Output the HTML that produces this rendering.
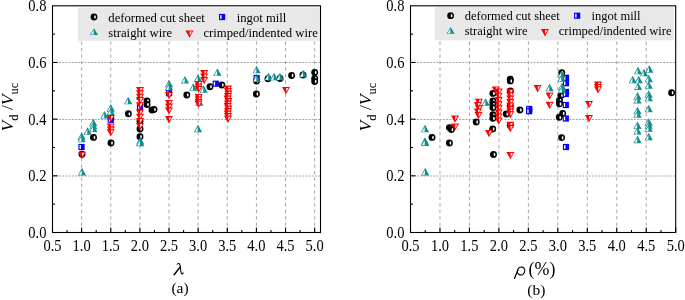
<!DOCTYPE html>
<html><head><meta charset="utf-8"><style>
html,body{margin:0;padding:0;background:#fff;width:685px;height:300px;overflow:hidden}
svg{display:block;will-change:transform}
text{font-family:"Liberation Serif",serif;fill:#000}
.tl{font-size:148px}
.lg{font-size:127px}
.lgb{font-size:125px}
.yt{font-size:175px}
.sub{font-size:125px}
.xt{font-size:170px}
.xt2{font-size:179px}
.cap{font-size:155px}
</style></head><body>
<svg width="685" height="300" viewBox="0 0 685 300">
<line x1="81.63" y1="232.5" x2="81.63" y2="9" stroke="#a6a6a6" stroke-width="1" stroke-dasharray="3.4,3.07"/>
<line x1="110.76" y1="232.5" x2="110.76" y2="9" stroke="#a6a6a6" stroke-width="1" stroke-dasharray="3.4,3.07"/>
<line x1="139.89" y1="232.5" x2="139.89" y2="9" stroke="#a6a6a6" stroke-width="1" stroke-dasharray="3.4,3.07"/>
<line x1="169.02" y1="232.5" x2="169.02" y2="9" stroke="#a6a6a6" stroke-width="1" stroke-dasharray="3.4,3.07"/>
<line x1="198.15" y1="232.5" x2="198.15" y2="9" stroke="#a6a6a6" stroke-width="1" stroke-dasharray="3.4,3.07"/>
<line x1="227.28" y1="232.5" x2="227.28" y2="9" stroke="#a6a6a6" stroke-width="1" stroke-dasharray="3.4,3.07"/>
<line x1="256.41" y1="232.5" x2="256.41" y2="9" stroke="#a6a6a6" stroke-width="1" stroke-dasharray="3.4,3.07"/>
<line x1="285.54" y1="232.5" x2="285.54" y2="9" stroke="#a6a6a6" stroke-width="1" stroke-dasharray="3.4,3.07"/>
<line x1="314.67" y1="232.5" x2="314.67" y2="9" stroke="#a6a6a6" stroke-width="1" stroke-dasharray="3.4,3.07"/>
<line x1="52.5" y1="176.00" x2="320.5" y2="176.00" stroke="#a6a6a6" stroke-width="1" stroke-dasharray="2,1.24"/>
<line x1="52.5" y1="119.50" x2="320.5" y2="119.50" stroke="#a6a6a6" stroke-width="1" stroke-dasharray="2,1.24"/>
<line x1="52.5" y1="62.50" x2="320.5" y2="62.50" stroke="#a6a6a6" stroke-width="1" stroke-dasharray="2,1.24"/>
<rect x="78.0" y="7.5" width="241.60" height="33.30" fill="#e8e8e8"/>
<circle cx="82.00" cy="154.30" r="3.45" fill="#000"/><ellipse cx="83.00" cy="154.40" rx="0.85" ry="1.75" fill="#fff"/>
<circle cx="93.50" cy="137.40" r="3.45" fill="#000"/><ellipse cx="94.50" cy="137.50" rx="0.85" ry="1.75" fill="#fff"/>
<circle cx="110.80" cy="118.00" r="3.45" fill="#000"/><ellipse cx="111.80" cy="118.10" rx="0.85" ry="1.75" fill="#fff"/>
<circle cx="111.00" cy="143.00" r="3.45" fill="#000"/><ellipse cx="112.00" cy="143.10" rx="0.85" ry="1.75" fill="#fff"/>
<circle cx="128.40" cy="113.80" r="3.45" fill="#000"/><ellipse cx="129.40" cy="113.90" rx="0.85" ry="1.75" fill="#fff"/>
<circle cx="140.00" cy="121.00" r="3.45" fill="#000"/><ellipse cx="141.00" cy="121.10" rx="0.85" ry="1.75" fill="#fff"/>
<circle cx="140.00" cy="129.00" r="3.45" fill="#000"/><ellipse cx="141.00" cy="129.10" rx="0.85" ry="1.75" fill="#fff"/>
<circle cx="140.00" cy="136.70" r="3.45" fill="#000"/><ellipse cx="141.00" cy="136.80" rx="0.85" ry="1.75" fill="#fff"/>
<circle cx="147.00" cy="101.00" r="3.45" fill="#000"/><ellipse cx="148.00" cy="101.10" rx="0.85" ry="1.75" fill="#fff"/>
<circle cx="147.00" cy="104.50" r="3.45" fill="#000"/><ellipse cx="148.00" cy="104.60" rx="0.85" ry="1.75" fill="#fff"/>
<circle cx="152.00" cy="110.00" r="3.45" fill="#000"/><ellipse cx="153.00" cy="110.10" rx="0.85" ry="1.75" fill="#fff"/>
<circle cx="154.00" cy="109.50" r="3.45" fill="#000"/><ellipse cx="155.00" cy="109.60" rx="0.85" ry="1.75" fill="#fff"/>
<circle cx="186.80" cy="95.00" r="3.45" fill="#000"/><ellipse cx="187.80" cy="95.10" rx="0.85" ry="1.75" fill="#fff"/>
<circle cx="210.00" cy="86.70" r="3.45" fill="#000"/><ellipse cx="211.00" cy="86.80" rx="0.85" ry="1.75" fill="#fff"/>
<circle cx="221.80" cy="85.00" r="3.45" fill="#000"/><ellipse cx="222.80" cy="85.10" rx="0.85" ry="1.75" fill="#fff"/>
<circle cx="256.60" cy="81.00" r="3.45" fill="#000"/><ellipse cx="257.60" cy="81.10" rx="0.85" ry="1.75" fill="#fff"/>
<circle cx="256.40" cy="94.00" r="3.45" fill="#000"/><ellipse cx="257.40" cy="94.10" rx="0.85" ry="1.75" fill="#fff"/>
<circle cx="268.00" cy="78.80" r="3.45" fill="#000"/><ellipse cx="269.00" cy="78.90" rx="0.85" ry="1.75" fill="#fff"/>
<circle cx="280.00" cy="78.50" r="3.45" fill="#000"/><ellipse cx="281.00" cy="78.60" rx="0.85" ry="1.75" fill="#fff"/>
<circle cx="291.60" cy="75.50" r="3.45" fill="#000"/><ellipse cx="292.60" cy="75.60" rx="0.85" ry="1.75" fill="#fff"/>
<circle cx="303.00" cy="75.00" r="3.45" fill="#000"/><ellipse cx="304.00" cy="75.10" rx="0.85" ry="1.75" fill="#fff"/>
<circle cx="314.70" cy="72.50" r="3.45" fill="#000"/><ellipse cx="315.70" cy="72.60" rx="0.85" ry="1.75" fill="#fff"/>
<circle cx="314.70" cy="78.50" r="3.45" fill="#000"/><ellipse cx="315.70" cy="78.60" rx="0.85" ry="1.75" fill="#fff"/>
<circle cx="314.70" cy="81.50" r="3.45" fill="#000"/><ellipse cx="315.70" cy="81.60" rx="0.85" ry="1.75" fill="#fff"/>
<rect x="78.40" y="143.90" width="6.2" height="6.2" fill="#00f"/><rect x="79.55" y="145.10" width="1.35" height="3.8" fill="#fff"/>
<rect x="107.70" y="116.70" width="6.2" height="6.2" fill="#00f"/><rect x="108.85" y="117.90" width="1.35" height="3.8" fill="#fff"/>
<rect x="136.90" y="103.90" width="6.2" height="6.2" fill="#00f"/><rect x="138.05" y="105.10" width="1.35" height="3.8" fill="#fff"/>
<rect x="165.90" y="90.10" width="6.2" height="6.2" fill="#00f"/><rect x="167.05" y="91.30" width="1.35" height="3.8" fill="#fff"/>
<rect x="212.60" y="80.60" width="6.2" height="6.2" fill="#00f"/><rect x="213.75" y="81.80" width="1.35" height="3.8" fill="#fff"/>
<rect x="253.50" y="74.90" width="6.2" height="6.2" fill="#00f"/><rect x="254.65" y="76.10" width="1.35" height="3.8" fill="#fff"/>
<path d="M77.50,139.80L85.70,139.80L81.60,132.20Z" fill="#108d8c"/><path d="M81.30,134.40L81.30,139.15L78.55,139.15Z" fill="#fff"/>
<path d="M77.50,142.30L85.70,142.30L81.60,134.70Z" fill="#108d8c"/><path d="M81.30,136.90L81.30,141.65L78.55,141.65Z" fill="#fff"/>
<path d="M77.90,175.40L86.10,175.40L82.00,167.80Z" fill="#108d8c"/><path d="M81.70,170.00L81.70,174.75L78.95,174.75Z" fill="#fff"/>
<path d="M83.50,134.80L91.70,134.80L87.60,127.20Z" fill="#108d8c"/><path d="M87.30,129.40L87.30,134.15L84.55,134.15Z" fill="#fff"/>
<path d="M89.20,126.30L97.40,126.30L93.30,118.70Z" fill="#108d8c"/><path d="M93.00,120.90L93.00,125.65L90.25,125.65Z" fill="#fff"/>
<path d="M89.20,129.30L97.40,129.30L93.30,121.70Z" fill="#108d8c"/><path d="M93.00,123.90L93.00,128.65L90.25,128.65Z" fill="#fff"/>
<path d="M89.20,132.10L97.40,132.10L93.30,124.50Z" fill="#108d8c"/><path d="M93.00,126.70L93.00,131.45L90.25,131.45Z" fill="#fff"/>
<path d="M100.40,118.60L108.60,118.60L104.50,111.00Z" fill="#108d8c"/><path d="M104.20,113.20L104.20,117.95L101.45,117.95Z" fill="#fff"/>
<path d="M106.70,111.70L114.90,111.70L110.80,104.10Z" fill="#108d8c"/><path d="M110.50,106.30L110.50,111.05L107.75,111.05Z" fill="#fff"/>
<path d="M106.70,115.20L114.90,115.20L110.80,107.60Z" fill="#108d8c"/><path d="M110.50,109.80L110.50,114.55L107.75,114.55Z" fill="#fff"/>
<path d="M124.10,104.30L132.30,104.30L128.20,96.70Z" fill="#108d8c"/><path d="M127.90,98.90L127.90,103.65L125.15,103.65Z" fill="#fff"/>
<path d="M135.90,99.80L144.10,99.80L140.00,92.20Z" fill="#108d8c"/><path d="M139.70,94.40L139.70,99.15L136.95,99.15Z" fill="#fff"/>
<path d="M136.10,144.40L144.30,144.40L140.20,136.80Z" fill="#108d8c"/><path d="M139.90,139.00L139.90,143.75L137.15,143.75Z" fill="#fff"/>
<path d="M136.10,146.20L144.30,146.20L140.20,138.60Z" fill="#108d8c"/><path d="M139.90,140.80L139.90,145.55L137.15,145.55Z" fill="#fff"/>
<path d="M164.90,87.30L173.10,87.30L169.00,79.70Z" fill="#108d8c"/><path d="M168.70,81.90L168.70,86.65L165.95,86.65Z" fill="#fff"/>
<path d="M164.90,90.30L173.10,90.30L169.00,82.70Z" fill="#108d8c"/><path d="M168.70,84.90L168.70,89.65L165.95,89.65Z" fill="#fff"/>
<path d="M180.90,83.50L189.10,83.50L185.00,75.90Z" fill="#108d8c"/><path d="M184.70,78.10L184.70,82.85L181.95,82.85Z" fill="#fff"/>
<path d="M189.20,90.80L197.40,90.80L193.30,83.20Z" fill="#108d8c"/><path d="M193.00,85.40L193.00,90.15L190.25,90.15Z" fill="#fff"/>
<path d="M193.90,81.80L202.10,81.80L198.00,74.20Z" fill="#108d8c"/><path d="M197.70,76.40L197.70,81.15L194.95,81.15Z" fill="#fff"/>
<path d="M193.90,132.30L202.10,132.30L198.00,124.70Z" fill="#108d8c"/><path d="M197.70,126.90L197.70,131.65L194.95,131.65Z" fill="#fff"/>
<path d="M199.50,92.80L207.70,92.80L203.60,85.20Z" fill="#108d8c"/><path d="M203.30,87.40L203.30,92.15L200.55,92.15Z" fill="#fff"/>
<path d="M195.20,105.80L203.40,105.80L199.30,98.20Z" fill="#108d8c"/><path d="M199.00,100.40L199.00,105.15L196.25,105.15Z" fill="#fff"/>
<path d="M213.30,75.80L221.50,75.80L217.40,68.20Z" fill="#108d8c"/><path d="M217.10,70.40L217.10,75.15L214.35,75.15Z" fill="#fff"/>
<path d="M252.50,73.30L260.70,73.30L256.60,65.70Z" fill="#108d8c"/><path d="M256.30,67.90L256.30,72.65L253.55,72.65Z" fill="#fff"/>
<path d="M252.50,82.00L260.70,82.00L256.60,74.40Z" fill="#108d8c"/><path d="M256.30,76.60L256.30,81.35L253.55,81.35Z" fill="#fff"/>
<path d="M264.40,80.30L272.60,80.30L268.50,72.70Z" fill="#108d8c"/><path d="M268.20,74.90L268.20,79.65L265.45,79.65Z" fill="#fff"/>
<path d="M269.90,80.30L278.10,80.30L274.00,72.70Z" fill="#108d8c"/><path d="M273.70,74.90L273.70,79.65L270.95,79.65Z" fill="#fff"/>
<path d="M275.80,80.30L284.00,80.30L279.90,72.70Z" fill="#108d8c"/><path d="M279.60,74.90L279.60,79.65L276.85,79.65Z" fill="#fff"/>
<path d="M299.10,77.30L307.30,77.30L303.20,69.70Z" fill="#108d8c"/><path d="M302.90,71.90L302.90,76.65L300.15,76.65Z" fill="#fff"/>
<path d="M78.00,151.70L86.00,151.70L82.00,159.00Z" fill="#f00"/><path d="M82.25,152.80L84.40,152.80L82.60,156.20L82.25,156.20Z" fill="#fff"/>
<path d="M106.80,115.00L114.80,115.00L110.80,122.30Z" fill="#f00"/><path d="M111.05,116.10L113.20,116.10L111.40,119.50L111.05,119.50Z" fill="#fff"/>
<path d="M106.80,123.40L114.80,123.40L110.80,130.70Z" fill="#f00"/><path d="M111.05,124.50L113.20,124.50L111.40,127.90L111.05,127.90Z" fill="#fff"/>
<path d="M106.80,126.40L114.80,126.40L110.80,133.70Z" fill="#f00"/><path d="M111.05,127.50L113.20,127.50L111.40,130.90L111.05,130.90Z" fill="#fff"/>
<path d="M106.80,129.20L114.80,129.20L110.80,136.50Z" fill="#f00"/><path d="M111.05,130.30L113.20,130.30L111.40,133.70L111.05,133.70Z" fill="#fff"/>
<path d="M136.00,87.00L144.00,87.00L140.00,94.30Z" fill="#f00"/><path d="M140.25,88.10L142.40,88.10L140.60,91.50L140.25,91.50Z" fill="#fff"/>
<path d="M136.00,90.30L144.00,90.30L140.00,97.60Z" fill="#f00"/><path d="M140.25,91.40L142.40,91.40L140.60,94.80L140.25,94.80Z" fill="#fff"/>
<path d="M136.00,93.70L144.00,93.70L140.00,101.00Z" fill="#f00"/><path d="M140.25,94.80L142.40,94.80L140.60,98.20L140.25,98.20Z" fill="#fff"/>
<path d="M136.00,97.00L144.00,97.00L140.00,104.30Z" fill="#f00"/><path d="M140.25,98.10L142.40,98.10L140.60,101.50L140.25,101.50Z" fill="#fff"/>
<path d="M136.00,102.20L144.00,102.20L140.00,109.50Z" fill="#f00"/><path d="M140.25,103.30L142.40,103.30L140.60,106.70L140.25,106.70Z" fill="#fff"/>
<path d="M136.00,109.60L144.00,109.60L140.00,116.90Z" fill="#f00"/><path d="M140.25,110.70L142.40,110.70L140.60,114.10L140.25,114.10Z" fill="#fff"/>
<path d="M136.00,113.70L144.00,113.70L140.00,121.00Z" fill="#f00"/><path d="M140.25,114.80L142.40,114.80L140.60,118.20L140.25,118.20Z" fill="#fff"/>
<path d="M136.00,117.90L144.00,117.90L140.00,125.20Z" fill="#f00"/><path d="M140.25,119.00L142.40,119.00L140.60,122.40L140.25,122.40Z" fill="#fff"/>
<path d="M136.00,123.00L144.00,123.00L140.00,130.30Z" fill="#f00"/><path d="M140.25,124.10L142.40,124.10L140.60,127.50L140.25,127.50Z" fill="#fff"/>
<path d="M165.00,91.90L173.00,91.90L169.00,99.20Z" fill="#f00"/><path d="M169.25,93.00L171.40,93.00L169.60,96.40L169.25,96.40Z" fill="#fff"/>
<path d="M165.00,100.00L173.00,100.00L169.00,107.30Z" fill="#f00"/><path d="M169.25,101.10L171.40,101.10L169.60,104.50L169.25,104.50Z" fill="#fff"/>
<path d="M165.00,103.60L173.00,103.60L169.00,110.90Z" fill="#f00"/><path d="M169.25,104.70L171.40,104.70L169.60,108.10L169.25,108.10Z" fill="#fff"/>
<path d="M165.00,107.30L173.00,107.30L169.00,114.60Z" fill="#f00"/><path d="M169.25,108.40L171.40,108.40L169.60,111.80L169.25,111.80Z" fill="#fff"/>
<path d="M165.00,116.10L173.00,116.10L169.00,123.40Z" fill="#f00"/><path d="M169.25,117.20L171.40,117.20L169.60,120.60L169.25,120.60Z" fill="#fff"/>
<path d="M194.60,80.90L202.60,80.90L198.60,88.20Z" fill="#f00"/><path d="M198.85,82.00L201.00,82.00L199.20,85.40L198.85,85.40Z" fill="#fff"/>
<path d="M194.60,83.40L202.60,83.40L198.60,90.70Z" fill="#f00"/><path d="M198.85,84.50L201.00,84.50L199.20,87.90L198.85,87.90Z" fill="#fff"/>
<path d="M194.60,85.80L202.60,85.80L198.60,93.10Z" fill="#f00"/><path d="M198.85,86.90L201.00,86.90L199.20,90.30L198.85,90.30Z" fill="#fff"/>
<path d="M194.60,94.00L202.60,94.00L198.60,101.30Z" fill="#f00"/><path d="M198.85,95.10L201.00,95.10L199.20,98.50L198.85,98.50Z" fill="#fff"/>
<path d="M194.60,96.50L202.60,96.50L198.60,103.80Z" fill="#f00"/><path d="M198.85,97.60L201.00,97.60L199.20,101.00L198.85,101.00Z" fill="#fff"/>
<path d="M194.60,98.90L202.60,98.90L198.60,106.20Z" fill="#f00"/><path d="M198.85,100.00L201.00,100.00L199.20,103.40L198.85,103.40Z" fill="#fff"/>
<path d="M194.60,100.70L202.60,100.70L198.60,108.00Z" fill="#f00"/><path d="M198.85,101.80L201.00,101.80L199.20,105.20L198.85,105.20Z" fill="#fff"/>
<path d="M200.20,70.00L208.20,70.00L204.20,77.30Z" fill="#f00"/><path d="M204.45,71.10L206.60,71.10L204.80,74.50L204.45,74.50Z" fill="#fff"/>
<path d="M200.20,73.40L208.20,73.40L204.20,80.70Z" fill="#f00"/><path d="M204.45,74.50L206.60,74.50L204.80,77.90L204.45,77.90Z" fill="#fff"/>
<path d="M200.20,76.90L208.20,76.90L204.20,84.20Z" fill="#f00"/><path d="M204.45,78.00L206.60,78.00L204.80,81.40L204.45,81.40Z" fill="#fff"/>
<path d="M224.00,85.60L232.00,85.60L228.00,92.90Z" fill="#f00"/><path d="M228.25,86.70L230.40,86.70L228.60,90.10L228.25,90.10Z" fill="#fff"/>
<path d="M224.00,88.10L232.00,88.10L228.00,95.40Z" fill="#f00"/><path d="M228.25,89.20L230.40,89.20L228.60,92.60L228.25,92.60Z" fill="#fff"/>
<path d="M224.40,90.60L232.40,90.60L228.40,97.90Z" fill="#f00"/><path d="M228.65,91.70L230.80,91.70L229.00,95.10L228.65,95.10Z" fill="#fff"/>
<path d="M224.00,93.10L232.00,93.10L228.00,100.40Z" fill="#f00"/><path d="M228.25,94.20L230.40,94.20L228.60,97.60L228.25,97.60Z" fill="#fff"/>
<path d="M223.60,95.60L231.60,95.60L227.60,102.90Z" fill="#f00"/><path d="M227.85,96.70L230.00,96.70L228.20,100.10L227.85,100.10Z" fill="#fff"/>
<path d="M224.30,98.10L232.30,98.10L228.30,105.40Z" fill="#f00"/><path d="M228.55,99.20L230.70,99.20L228.90,102.60L228.55,102.60Z" fill="#fff"/>
<path d="M224.00,100.60L232.00,100.60L228.00,107.90Z" fill="#f00"/><path d="M228.25,101.70L230.40,101.70L228.60,105.10L228.25,105.10Z" fill="#fff"/>
<path d="M223.70,103.10L231.70,103.10L227.70,110.40Z" fill="#f00"/><path d="M227.95,104.20L230.10,104.20L228.30,107.60L227.95,107.60Z" fill="#fff"/>
<path d="M224.30,105.60L232.30,105.60L228.30,112.90Z" fill="#f00"/><path d="M228.55,106.70L230.70,106.70L228.90,110.10L228.55,110.10Z" fill="#fff"/>
<path d="M224.00,108.10L232.00,108.10L228.00,115.40Z" fill="#f00"/><path d="M228.25,109.20L230.40,109.20L228.60,112.60L228.25,112.60Z" fill="#fff"/>
<path d="M223.70,110.60L231.70,110.60L227.70,117.90Z" fill="#f00"/><path d="M227.95,111.70L230.10,111.70L228.30,115.10L227.95,115.10Z" fill="#fff"/>
<path d="M224.00,113.10L232.00,113.10L228.00,120.40Z" fill="#f00"/><path d="M228.25,114.20L230.40,114.20L228.60,117.60L228.25,117.60Z" fill="#fff"/>
<path d="M224.00,115.60L232.00,115.60L228.00,122.90Z" fill="#f00"/><path d="M228.25,116.70L230.40,116.70L228.60,120.10L228.25,120.10Z" fill="#fff"/>
<path d="M282.00,86.90L290.00,86.90L286.00,94.20Z" fill="#f00"/><path d="M286.25,88.00L288.40,88.00L286.60,91.40L286.25,91.40Z" fill="#fff"/>
<line x1="52.50" y1="232.5" x2="52.50" y2="227.5" stroke="#000" stroke-width="1.1"/>
<line x1="67.07" y1="232.5" x2="67.07" y2="230.0" stroke="#000" stroke-width="1.1"/>
<line x1="81.63" y1="232.5" x2="81.63" y2="227.5" stroke="#000" stroke-width="1.1"/>
<line x1="96.20" y1="232.5" x2="96.20" y2="230.0" stroke="#000" stroke-width="1.1"/>
<line x1="110.76" y1="232.5" x2="110.76" y2="227.5" stroke="#000" stroke-width="1.1"/>
<line x1="125.33" y1="232.5" x2="125.33" y2="230.0" stroke="#000" stroke-width="1.1"/>
<line x1="139.89" y1="232.5" x2="139.89" y2="227.5" stroke="#000" stroke-width="1.1"/>
<line x1="154.46" y1="232.5" x2="154.46" y2="230.0" stroke="#000" stroke-width="1.1"/>
<line x1="169.02" y1="232.5" x2="169.02" y2="227.5" stroke="#000" stroke-width="1.1"/>
<line x1="183.59" y1="232.5" x2="183.59" y2="230.0" stroke="#000" stroke-width="1.1"/>
<line x1="198.15" y1="232.5" x2="198.15" y2="227.5" stroke="#000" stroke-width="1.1"/>
<line x1="212.72" y1="232.5" x2="212.72" y2="230.0" stroke="#000" stroke-width="1.1"/>
<line x1="227.28" y1="232.5" x2="227.28" y2="227.5" stroke="#000" stroke-width="1.1"/>
<line x1="241.85" y1="232.5" x2="241.85" y2="230.0" stroke="#000" stroke-width="1.1"/>
<line x1="256.41" y1="232.5" x2="256.41" y2="227.5" stroke="#000" stroke-width="1.1"/>
<line x1="270.98" y1="232.5" x2="270.98" y2="230.0" stroke="#000" stroke-width="1.1"/>
<line x1="285.54" y1="232.5" x2="285.54" y2="227.5" stroke="#000" stroke-width="1.1"/>
<line x1="300.11" y1="232.5" x2="300.11" y2="230.0" stroke="#000" stroke-width="1.1"/>
<line x1="314.67" y1="232.5" x2="314.67" y2="227.5" stroke="#000" stroke-width="1.1"/>
<line x1="52.5" y1="204.16" x2="55.0" y2="204.16" stroke="#000" stroke-width="1.1"/>
<line x1="52.5" y1="175.82" x2="57.5" y2="175.82" stroke="#000" stroke-width="1.1"/>
<line x1="52.5" y1="147.49" x2="55.0" y2="147.49" stroke="#000" stroke-width="1.1"/>
<line x1="52.5" y1="119.15" x2="57.5" y2="119.15" stroke="#000" stroke-width="1.1"/>
<line x1="52.5" y1="90.81" x2="55.0" y2="90.81" stroke="#000" stroke-width="1.1"/>
<line x1="52.5" y1="62.47" x2="57.5" y2="62.47" stroke="#000" stroke-width="1.1"/>
<line x1="52.5" y1="34.14" x2="55.0" y2="34.14" stroke="#000" stroke-width="1.1"/>
<rect x="52.5" y="5.8" width="268.00" height="226.70" fill="none" stroke="#000" stroke-width="1.1"/>
<text transform="translate(52.50,250.70) scale(0.098,0.108)" class="tl" text-anchor="middle">0.5</text>
<text transform="translate(81.63,250.70) scale(0.098,0.108)" class="tl" text-anchor="middle">1.0</text>
<text transform="translate(110.76,250.70) scale(0.098,0.108)" class="tl" text-anchor="middle">1.5</text>
<text transform="translate(139.89,250.70) scale(0.098,0.108)" class="tl" text-anchor="middle">2.0</text>
<text transform="translate(169.02,250.70) scale(0.098,0.108)" class="tl" text-anchor="middle">2.5</text>
<text transform="translate(198.15,250.70) scale(0.098,0.108)" class="tl" text-anchor="middle">3.0</text>
<text transform="translate(227.28,250.70) scale(0.098,0.108)" class="tl" text-anchor="middle">3.5</text>
<text transform="translate(256.41,250.70) scale(0.098,0.108)" class="tl" text-anchor="middle">4.0</text>
<text transform="translate(285.54,250.70) scale(0.098,0.108)" class="tl" text-anchor="middle">4.5</text>
<text transform="translate(314.67,250.70) scale(0.098,0.108)" class="tl" text-anchor="middle">5.0</text>
<text transform="translate(46.40,238.10) scale(0.098,0.108)" class="tl" text-anchor="end">0.0</text>
<text transform="translate(46.40,181.42) scale(0.098,0.108)" class="tl" text-anchor="end">0.2</text>
<text transform="translate(46.40,124.75) scale(0.098,0.108)" class="tl" text-anchor="end">0.4</text>
<text transform="translate(46.40,68.07) scale(0.098,0.108)" class="tl" text-anchor="end">0.6</text>
<text transform="translate(46.40,11.40) scale(0.098,0.108)" class="tl" text-anchor="end">0.8</text>
<circle cx="94.00" cy="17.00" r="3.4" fill="#000"/><ellipse cx="95.00" cy="17.10" rx="0.85" ry="1.75" fill="#fff"/>
<path d="M90.00,35.10L98.00,35.10L94.00,28.30Z" fill="#108d8c"/><path d="M93.70,30.10L93.70,34.45L90.95,34.45Z" fill="#fff"/>
<text transform="translate(108.30,21.60) scale(0.1,0.1)" class="lg">deformed cut sheet</text>
<text transform="translate(108.30,36.50) scale(0.1,0.1)" class="lg">straight wire</text>
<rect x="219.00" y="13.90" width="6.2" height="6.2" fill="#00f"/><rect x="220.15" y="15.10" width="1.35" height="3.8" fill="#fff"/>
<text transform="translate(236.70,21.60) scale(0.1,0.1)" class="lg">ingot mill</text>
<path d="M185.50,30.40L193.50,30.40L189.50,37.70Z" fill="#f00"/><path d="M189.75,31.50L191.90,31.50L190.10,34.90L189.75,34.90Z" fill="#fff"/>
<text transform="translate(203.40,36.50) scale(0.1,0.1)" class="lg">crimped/indented wire</text>
<line x1="439.97" y1="232.5" x2="439.97" y2="9" stroke="#a6a6a6" stroke-width="1" stroke-dasharray="3.4,3.07"/>
<line x1="469.43" y1="232.5" x2="469.43" y2="9" stroke="#a6a6a6" stroke-width="1" stroke-dasharray="3.4,3.07"/>
<line x1="498.90" y1="232.5" x2="498.90" y2="9" stroke="#a6a6a6" stroke-width="1" stroke-dasharray="3.4,3.07"/>
<line x1="528.37" y1="232.5" x2="528.37" y2="9" stroke="#a6a6a6" stroke-width="1" stroke-dasharray="3.4,3.07"/>
<line x1="557.83" y1="232.5" x2="557.83" y2="9" stroke="#a6a6a6" stroke-width="1" stroke-dasharray="3.4,3.07"/>
<line x1="587.30" y1="232.5" x2="587.30" y2="9" stroke="#a6a6a6" stroke-width="1" stroke-dasharray="3.4,3.07"/>
<line x1="616.77" y1="232.5" x2="616.77" y2="9" stroke="#a6a6a6" stroke-width="1" stroke-dasharray="3.4,3.07"/>
<line x1="646.23" y1="232.5" x2="646.23" y2="9" stroke="#a6a6a6" stroke-width="1" stroke-dasharray="3.4,3.07"/>
<line x1="410.5" y1="176.00" x2="675.7" y2="176.00" stroke="#a6a6a6" stroke-width="1" stroke-dasharray="2,1.24"/>
<line x1="410.5" y1="119.50" x2="675.7" y2="119.50" stroke="#a6a6a6" stroke-width="1" stroke-dasharray="2,1.24"/>
<line x1="410.5" y1="62.50" x2="675.7" y2="62.50" stroke="#a6a6a6" stroke-width="1" stroke-dasharray="2,1.24"/>
<rect x="434.8" y="7.0" width="239.00" height="33.30" fill="#e8e8e8"/>
<circle cx="432.00" cy="137.40" r="3.45" fill="#000"/><ellipse cx="433.00" cy="137.50" rx="0.85" ry="1.75" fill="#fff"/>
<circle cx="449.40" cy="127.60" r="3.45" fill="#000"/><ellipse cx="450.40" cy="127.70" rx="0.85" ry="1.75" fill="#fff"/>
<circle cx="451.40" cy="129.60" r="3.45" fill="#000"/><ellipse cx="452.40" cy="129.70" rx="0.85" ry="1.75" fill="#fff"/>
<circle cx="449.40" cy="143.00" r="3.45" fill="#000"/><ellipse cx="450.40" cy="143.10" rx="0.85" ry="1.75" fill="#fff"/>
<circle cx="476.20" cy="122.00" r="3.45" fill="#000"/><ellipse cx="477.20" cy="122.10" rx="0.85" ry="1.75" fill="#fff"/>
<circle cx="492.90" cy="93.40" r="3.45" fill="#000"/><ellipse cx="493.90" cy="93.50" rx="0.85" ry="1.75" fill="#fff"/>
<circle cx="492.90" cy="100.90" r="3.45" fill="#000"/><ellipse cx="493.90" cy="101.00" rx="0.85" ry="1.75" fill="#fff"/>
<circle cx="492.90" cy="104.30" r="3.45" fill="#000"/><ellipse cx="493.90" cy="104.40" rx="0.85" ry="1.75" fill="#fff"/>
<circle cx="492.90" cy="107.60" r="3.45" fill="#000"/><ellipse cx="493.90" cy="107.70" rx="0.85" ry="1.75" fill="#fff"/>
<circle cx="492.90" cy="114.80" r="3.45" fill="#000"/><ellipse cx="493.90" cy="114.90" rx="0.85" ry="1.75" fill="#fff"/>
<circle cx="492.90" cy="118.30" r="3.45" fill="#000"/><ellipse cx="493.90" cy="118.40" rx="0.85" ry="1.75" fill="#fff"/>
<circle cx="492.70" cy="129.00" r="3.45" fill="#000"/><ellipse cx="493.70" cy="129.10" rx="0.85" ry="1.75" fill="#fff"/>
<circle cx="493.50" cy="154.50" r="3.45" fill="#000"/><ellipse cx="494.50" cy="154.60" rx="0.85" ry="1.75" fill="#fff"/>
<circle cx="510.30" cy="79.20" r="3.45" fill="#000"/><ellipse cx="511.30" cy="79.30" rx="0.85" ry="1.75" fill="#fff"/>
<circle cx="510.30" cy="80.90" r="3.45" fill="#000"/><ellipse cx="511.30" cy="81.00" rx="0.85" ry="1.75" fill="#fff"/>
<circle cx="510.30" cy="91.00" r="3.45" fill="#000"/><ellipse cx="511.30" cy="91.10" rx="0.85" ry="1.75" fill="#fff"/>
<circle cx="510.30" cy="106.00" r="3.45" fill="#000"/><ellipse cx="511.30" cy="106.10" rx="0.85" ry="1.75" fill="#fff"/>
<circle cx="506.30" cy="114.00" r="3.45" fill="#000"/><ellipse cx="507.30" cy="114.10" rx="0.85" ry="1.75" fill="#fff"/>
<circle cx="510.30" cy="125.50" r="3.45" fill="#000"/><ellipse cx="511.30" cy="125.60" rx="0.85" ry="1.75" fill="#fff"/>
<circle cx="519.90" cy="110.00" r="3.45" fill="#000"/><ellipse cx="520.90" cy="110.10" rx="0.85" ry="1.75" fill="#fff"/>
<circle cx="561.00" cy="95.50" r="3.45" fill="#000"/><ellipse cx="562.00" cy="95.60" rx="0.85" ry="1.75" fill="#fff"/>
<circle cx="559.50" cy="100.50" r="3.45" fill="#000"/><ellipse cx="560.50" cy="100.60" rx="0.85" ry="1.75" fill="#fff"/>
<circle cx="559.50" cy="103.80" r="3.45" fill="#000"/><ellipse cx="560.50" cy="103.90" rx="0.85" ry="1.75" fill="#fff"/>
<circle cx="559.30" cy="117.30" r="3.45" fill="#000"/><ellipse cx="560.30" cy="117.40" rx="0.85" ry="1.75" fill="#fff"/>
<circle cx="561.70" cy="72.70" r="3.45" fill="#000"/><ellipse cx="562.70" cy="72.80" rx="0.85" ry="1.75" fill="#fff"/>
<circle cx="561.60" cy="137.60" r="3.45" fill="#000"/><ellipse cx="562.60" cy="137.70" rx="0.85" ry="1.75" fill="#fff"/>
<circle cx="562.70" cy="113.50" r="3.45" fill="#000"/><ellipse cx="563.70" cy="113.60" rx="0.85" ry="1.75" fill="#fff"/>
<circle cx="671.60" cy="92.70" r="3.45" fill="#000"/><ellipse cx="672.60" cy="92.80" rx="0.85" ry="1.75" fill="#fff"/>
<rect x="526.10" y="105.90" width="6.2" height="6.2" fill="#00f"/><rect x="527.25" y="107.10" width="1.35" height="3.8" fill="#fff"/>
<rect x="526.10" y="108.10" width="6.2" height="6.2" fill="#00f"/><rect x="527.25" y="109.30" width="1.35" height="3.8" fill="#fff"/>
<rect x="562.90" y="74.70" width="6.2" height="6.2" fill="#00f"/><rect x="564.05" y="75.90" width="1.35" height="3.8" fill="#fff"/>
<rect x="562.90" y="80.10" width="6.2" height="6.2" fill="#00f"/><rect x="564.05" y="81.30" width="1.35" height="3.8" fill="#fff"/>
<rect x="562.90" y="88.90" width="6.2" height="6.2" fill="#00f"/><rect x="564.05" y="90.10" width="1.35" height="3.8" fill="#fff"/>
<rect x="562.70" y="90.90" width="6.2" height="6.2" fill="#00f"/><rect x="563.85" y="92.10" width="1.35" height="3.8" fill="#fff"/>
<rect x="562.70" y="101.90" width="6.2" height="6.2" fill="#00f"/><rect x="563.85" y="103.10" width="1.35" height="3.8" fill="#fff"/>
<rect x="562.70" y="115.40" width="6.2" height="6.2" fill="#00f"/><rect x="563.85" y="116.60" width="1.35" height="3.8" fill="#fff"/>
<rect x="562.90" y="143.90" width="6.2" height="6.2" fill="#00f"/><rect x="564.05" y="145.10" width="1.35" height="3.8" fill="#fff"/>
<path d="M420.90,132.30L429.10,132.30L425.00,124.70Z" fill="#108d8c"/><path d="M424.70,126.90L424.70,131.65L421.95,131.65Z" fill="#fff"/>
<path d="M420.90,144.80L429.10,144.80L425.00,137.20Z" fill="#108d8c"/><path d="M424.70,139.40L424.70,144.15L421.95,144.15Z" fill="#fff"/>
<path d="M420.90,146.00L429.10,146.00L425.00,138.40Z" fill="#108d8c"/><path d="M424.70,140.60L424.70,145.35L421.95,145.35Z" fill="#fff"/>
<path d="M421.10,175.40L429.30,175.40L425.20,167.80Z" fill="#108d8c"/><path d="M424.90,170.00L424.90,174.75L422.15,174.75Z" fill="#fff"/>
<path d="M481.50,105.80L489.70,105.80L485.60,98.20Z" fill="#108d8c"/><path d="M485.30,100.40L485.30,105.15L482.55,105.15Z" fill="#fff"/>
<path d="M545.50,91.30L553.70,91.30L549.60,83.70Z" fill="#108d8c"/><path d="M549.30,85.90L549.30,90.65L546.55,90.65Z" fill="#fff"/>
<path d="M557.40,77.80L565.60,77.80L561.50,70.20Z" fill="#108d8c"/><path d="M561.20,72.40L561.20,77.15L558.45,77.15Z" fill="#fff"/>
<path d="M557.40,81.80L565.60,81.80L561.50,74.20Z" fill="#108d8c"/><path d="M561.20,76.40L561.20,81.15L558.45,81.15Z" fill="#fff"/>
<path d="M557.90,90.20L566.10,90.20L562.00,82.60Z" fill="#108d8c"/><path d="M561.70,84.80L561.70,89.55L558.95,89.55Z" fill="#fff"/>
<path d="M557.90,93.20L566.10,93.20L562.00,85.60Z" fill="#108d8c"/><path d="M561.70,87.80L561.70,92.55L558.95,92.55Z" fill="#fff"/>
<path d="M633.90,74.30L642.10,74.30L638.00,66.70Z" fill="#108d8c"/><path d="M637.70,68.90L637.70,73.65L634.95,73.65Z" fill="#fff"/>
<path d="M639.90,76.30L648.10,76.30L644.00,68.70Z" fill="#108d8c"/><path d="M643.70,70.90L643.70,75.65L640.95,75.65Z" fill="#fff"/>
<path d="M645.20,72.80L653.40,72.80L649.30,65.20Z" fill="#108d8c"/><path d="M649.00,67.40L649.00,72.15L646.25,72.15Z" fill="#fff"/>
<path d="M628.60,83.30L636.80,83.30L632.70,75.70Z" fill="#108d8c"/><path d="M632.40,77.90L632.40,82.65L629.65,82.65Z" fill="#fff"/>
<path d="M634.60,83.30L642.80,83.30L638.70,75.70Z" fill="#108d8c"/><path d="M638.40,77.90L638.40,82.65L635.65,82.65Z" fill="#fff"/>
<path d="M644.60,82.30L652.80,82.30L648.70,74.70Z" fill="#108d8c"/><path d="M648.40,76.90L648.40,81.65L645.65,81.65Z" fill="#fff"/>
<path d="M633.90,90.00L642.10,90.00L638.00,82.40Z" fill="#108d8c"/><path d="M637.70,84.60L637.70,89.35L634.95,89.35Z" fill="#fff"/>
<path d="M644.60,88.80L652.80,88.80L648.70,81.20Z" fill="#108d8c"/><path d="M648.40,83.40L648.40,88.15L645.65,88.15Z" fill="#fff"/>
<path d="M644.60,97.80L652.80,97.80L648.70,90.20Z" fill="#108d8c"/><path d="M648.40,92.40L648.40,97.15L645.65,97.15Z" fill="#fff"/>
<path d="M644.60,101.30L652.80,101.30L648.70,93.70Z" fill="#108d8c"/><path d="M648.40,95.90L648.40,100.65L645.65,100.65Z" fill="#fff"/>
<path d="M633.40,99.70L641.60,99.70L637.50,92.10Z" fill="#108d8c"/><path d="M637.20,94.30L637.20,99.05L634.45,99.05Z" fill="#fff"/>
<path d="M633.40,103.40L641.60,103.40L637.50,95.80Z" fill="#108d8c"/><path d="M637.20,98.00L637.20,102.75L634.45,102.75Z" fill="#fff"/>
<path d="M633.40,114.30L641.60,114.30L637.50,106.70Z" fill="#108d8c"/><path d="M637.20,108.90L637.20,113.65L634.45,113.65Z" fill="#fff"/>
<path d="M633.40,117.80L641.60,117.80L637.50,110.20Z" fill="#108d8c"/><path d="M637.20,112.40L637.20,117.15L634.45,117.15Z" fill="#fff"/>
<path d="M633.40,129.10L641.60,129.10L637.50,121.50Z" fill="#108d8c"/><path d="M637.20,123.70L637.20,128.45L634.45,128.45Z" fill="#fff"/>
<path d="M633.40,134.40L641.60,134.40L637.50,126.80Z" fill="#108d8c"/><path d="M637.20,129.00L637.20,133.75L634.45,133.75Z" fill="#fff"/>
<path d="M633.40,143.20L641.60,143.20L637.50,135.60Z" fill="#108d8c"/><path d="M637.20,137.80L637.20,142.55L634.45,142.55Z" fill="#fff"/>
<path d="M644.60,112.30L652.80,112.30L648.70,104.70Z" fill="#108d8c"/><path d="M648.40,106.90L648.40,111.65L645.65,111.65Z" fill="#fff"/>
<path d="M644.60,125.80L652.80,125.80L648.70,118.20Z" fill="#108d8c"/><path d="M648.40,120.40L648.40,125.15L645.65,125.15Z" fill="#fff"/>
<path d="M644.60,128.80L652.80,128.80L648.70,121.20Z" fill="#108d8c"/><path d="M648.40,123.40L648.40,128.15L645.65,128.15Z" fill="#fff"/>
<path d="M644.60,131.80L652.80,131.80L648.70,124.20Z" fill="#108d8c"/><path d="M648.40,126.40L648.40,131.15L645.65,131.15Z" fill="#fff"/>
<path d="M644.60,140.30L652.80,140.30L648.70,132.70Z" fill="#108d8c"/><path d="M648.40,134.90L648.40,139.65L645.65,139.65Z" fill="#fff"/>
<path d="M451.00,115.40L459.00,115.40L455.00,122.70Z" fill="#f00"/><path d="M455.25,116.50L457.40,116.50L455.60,119.90L455.25,119.90Z" fill="#fff"/>
<path d="M451.00,123.40L459.00,123.40L455.00,130.70Z" fill="#f00"/><path d="M455.25,124.50L457.40,124.50L455.60,127.90L455.25,127.90Z" fill="#fff"/>
<path d="M474.90,98.70L482.90,98.70L478.90,106.00Z" fill="#f00"/><path d="M479.15,99.80L481.30,99.80L479.50,103.20L479.15,103.20Z" fill="#fff"/>
<path d="M473.90,102.00L481.90,102.00L477.90,109.30Z" fill="#f00"/><path d="M478.15,103.10L480.30,103.10L478.50,106.50L478.15,106.50Z" fill="#fff"/>
<path d="M474.90,105.30L482.90,105.30L478.90,112.60Z" fill="#f00"/><path d="M479.15,106.40L481.30,106.40L479.50,109.80L479.15,109.80Z" fill="#fff"/>
<path d="M473.90,108.60L481.90,108.60L477.90,115.90Z" fill="#f00"/><path d="M478.15,109.70L480.30,109.70L478.50,113.10L478.15,113.10Z" fill="#fff"/>
<path d="M474.50,112.00L482.50,112.00L478.50,119.30Z" fill="#f00"/><path d="M478.75,113.10L480.90,113.10L479.10,116.50L478.75,116.50Z" fill="#fff"/>
<path d="M491.70,86.40L499.70,86.40L495.70,93.70Z" fill="#f00"/><path d="M495.95,87.50L498.10,87.50L496.30,90.90L495.95,90.90Z" fill="#fff"/>
<path d="M485.00,129.90L493.00,129.90L489.00,137.20Z" fill="#f00"/><path d="M489.25,131.00L491.40,131.00L489.60,134.40L489.25,134.40Z" fill="#fff"/>
<path d="M494.70,88.40L502.70,88.40L498.70,95.70Z" fill="#f00"/><path d="M498.95,89.50L501.10,89.50L499.30,92.90L498.95,92.90Z" fill="#fff"/>
<path d="M494.70,92.70L502.70,92.70L498.70,100.00Z" fill="#f00"/><path d="M498.95,93.80L501.10,93.80L499.30,97.20L498.95,97.20Z" fill="#fff"/>
<path d="M494.70,97.00L502.70,97.00L498.70,104.30Z" fill="#f00"/><path d="M498.95,98.10L501.10,98.10L499.30,101.50L498.95,101.50Z" fill="#fff"/>
<path d="M494.70,101.20L502.70,101.20L498.70,108.50Z" fill="#f00"/><path d="M498.95,102.30L501.10,102.30L499.30,105.70L498.95,105.70Z" fill="#fff"/>
<path d="M494.70,105.20L502.70,105.20L498.70,112.50Z" fill="#f00"/><path d="M498.95,106.30L501.10,106.30L499.30,109.70L498.95,109.70Z" fill="#fff"/>
<path d="M494.70,109.40L502.70,109.40L498.70,116.70Z" fill="#f00"/><path d="M498.95,110.50L501.10,110.50L499.30,113.90L498.95,113.90Z" fill="#fff"/>
<path d="M494.70,113.50L502.70,113.50L498.70,120.80Z" fill="#f00"/><path d="M498.95,114.60L501.10,114.60L499.30,118.00L498.95,118.00Z" fill="#fff"/>
<path d="M494.70,117.50L502.70,117.50L498.70,124.80Z" fill="#f00"/><path d="M498.95,118.60L501.10,118.60L499.30,122.00L498.95,122.00Z" fill="#fff"/>
<path d="M506.30,88.80L514.30,88.80L510.30,96.10Z" fill="#f00"/><path d="M510.55,89.90L512.70,89.90L510.90,93.30L510.55,93.30Z" fill="#fff"/>
<path d="M506.30,92.20L514.30,92.20L510.30,99.50Z" fill="#f00"/><path d="M510.55,93.30L512.70,93.30L510.90,96.70L510.55,96.70Z" fill="#fff"/>
<path d="M506.30,95.60L514.30,95.60L510.30,102.90Z" fill="#f00"/><path d="M510.55,96.70L512.70,96.70L510.90,100.10L510.55,100.10Z" fill="#fff"/>
<path d="M506.30,99.00L514.30,99.00L510.30,106.30Z" fill="#f00"/><path d="M510.55,100.10L512.70,100.10L510.90,103.50L510.55,103.50Z" fill="#fff"/>
<path d="M506.30,102.40L514.30,102.40L510.30,109.70Z" fill="#f00"/><path d="M510.55,103.50L512.70,103.50L510.90,106.90L510.55,106.90Z" fill="#fff"/>
<path d="M506.30,105.80L514.30,105.80L510.30,113.10Z" fill="#f00"/><path d="M510.55,106.90L512.70,106.90L510.90,110.30L510.55,110.30Z" fill="#fff"/>
<path d="M506.30,108.40L514.30,108.40L510.30,115.70Z" fill="#f00"/><path d="M510.55,109.50L512.70,109.50L510.90,112.90L510.55,112.90Z" fill="#fff"/>
<path d="M506.30,111.20L514.30,111.20L510.30,118.50Z" fill="#f00"/><path d="M510.55,112.30L512.70,112.30L510.90,115.70L510.55,115.70Z" fill="#fff"/>
<path d="M506.30,121.80L514.30,121.80L510.30,129.10Z" fill="#f00"/><path d="M510.55,122.90L512.70,122.90L510.90,126.30L510.55,126.30Z" fill="#fff"/>
<path d="M506.30,125.00L514.30,125.00L510.30,132.30Z" fill="#f00"/><path d="M510.55,126.10L512.70,126.10L510.90,129.50L510.55,129.50Z" fill="#fff"/>
<path d="M506.40,151.90L514.40,151.90L510.40,159.20Z" fill="#f00"/><path d="M510.65,153.00L512.80,153.00L511.00,156.40L510.65,156.40Z" fill="#fff"/>
<path d="M533.60,85.10L541.60,85.10L537.60,92.40Z" fill="#f00"/><path d="M537.85,86.20L540.00,86.20L538.20,89.60L537.85,89.60Z" fill="#fff"/>
<path d="M545.60,92.40L553.60,92.40L549.60,99.70Z" fill="#f00"/><path d="M549.85,93.50L552.00,93.50L550.20,96.90L549.85,96.90Z" fill="#fff"/>
<path d="M545.60,101.70L553.60,101.70L549.60,109.00Z" fill="#f00"/><path d="M549.85,102.80L552.00,102.80L550.20,106.20L549.85,106.20Z" fill="#fff"/>
<path d="M585.00,100.90L593.00,100.90L589.00,108.20Z" fill="#f00"/><path d="M589.25,102.00L591.40,102.00L589.60,105.40L589.25,105.40Z" fill="#fff"/>
<path d="M585.00,114.90L593.00,114.90L589.00,122.20Z" fill="#f00"/><path d="M589.25,116.00L591.40,116.00L589.60,119.40L589.25,119.40Z" fill="#fff"/>
<path d="M594.00,81.60L602.00,81.60L598.00,88.90Z" fill="#f00"/><path d="M598.25,82.70L600.40,82.70L598.60,86.10L598.25,86.10Z" fill="#fff"/>
<path d="M594.00,83.90L602.00,83.90L598.00,91.20Z" fill="#f00"/><path d="M598.25,85.00L600.40,85.00L598.60,88.40L598.25,88.40Z" fill="#fff"/>
<path d="M594.00,86.20L602.00,86.20L598.00,93.50Z" fill="#f00"/><path d="M598.25,87.30L600.40,87.30L598.60,90.70L598.25,90.70Z" fill="#fff"/>
<line x1="410.50" y1="232.5" x2="410.50" y2="227.5" stroke="#000" stroke-width="1.1"/>
<line x1="425.23" y1="232.5" x2="425.23" y2="230.0" stroke="#000" stroke-width="1.1"/>
<line x1="439.97" y1="232.5" x2="439.97" y2="227.5" stroke="#000" stroke-width="1.1"/>
<line x1="454.70" y1="232.5" x2="454.70" y2="230.0" stroke="#000" stroke-width="1.1"/>
<line x1="469.43" y1="232.5" x2="469.43" y2="227.5" stroke="#000" stroke-width="1.1"/>
<line x1="484.17" y1="232.5" x2="484.17" y2="230.0" stroke="#000" stroke-width="1.1"/>
<line x1="498.90" y1="232.5" x2="498.90" y2="227.5" stroke="#000" stroke-width="1.1"/>
<line x1="513.63" y1="232.5" x2="513.63" y2="230.0" stroke="#000" stroke-width="1.1"/>
<line x1="528.37" y1="232.5" x2="528.37" y2="227.5" stroke="#000" stroke-width="1.1"/>
<line x1="543.10" y1="232.5" x2="543.10" y2="230.0" stroke="#000" stroke-width="1.1"/>
<line x1="557.83" y1="232.5" x2="557.83" y2="227.5" stroke="#000" stroke-width="1.1"/>
<line x1="572.57" y1="232.5" x2="572.57" y2="230.0" stroke="#000" stroke-width="1.1"/>
<line x1="587.30" y1="232.5" x2="587.30" y2="227.5" stroke="#000" stroke-width="1.1"/>
<line x1="602.03" y1="232.5" x2="602.03" y2="230.0" stroke="#000" stroke-width="1.1"/>
<line x1="616.77" y1="232.5" x2="616.77" y2="227.5" stroke="#000" stroke-width="1.1"/>
<line x1="631.50" y1="232.5" x2="631.50" y2="230.0" stroke="#000" stroke-width="1.1"/>
<line x1="646.23" y1="232.5" x2="646.23" y2="227.5" stroke="#000" stroke-width="1.1"/>
<line x1="660.97" y1="232.5" x2="660.97" y2="230.0" stroke="#000" stroke-width="1.1"/>
<line x1="675.70" y1="232.5" x2="675.70" y2="227.5" stroke="#000" stroke-width="1.1"/>
<line x1="410.5" y1="204.16" x2="413.0" y2="204.16" stroke="#000" stroke-width="1.1"/>
<line x1="410.5" y1="175.82" x2="415.5" y2="175.82" stroke="#000" stroke-width="1.1"/>
<line x1="410.5" y1="147.49" x2="413.0" y2="147.49" stroke="#000" stroke-width="1.1"/>
<line x1="410.5" y1="119.15" x2="415.5" y2="119.15" stroke="#000" stroke-width="1.1"/>
<line x1="410.5" y1="90.81" x2="413.0" y2="90.81" stroke="#000" stroke-width="1.1"/>
<line x1="410.5" y1="62.47" x2="415.5" y2="62.47" stroke="#000" stroke-width="1.1"/>
<line x1="410.5" y1="34.14" x2="413.0" y2="34.14" stroke="#000" stroke-width="1.1"/>
<rect x="410.5" y="5.8" width="265.20" height="226.70" fill="none" stroke="#000" stroke-width="1.1"/>
<text transform="translate(410.50,250.70) scale(0.098,0.108)" class="tl" text-anchor="middle">0.5</text>
<text transform="translate(439.97,250.70) scale(0.098,0.108)" class="tl" text-anchor="middle">1.0</text>
<text transform="translate(469.43,250.70) scale(0.098,0.108)" class="tl" text-anchor="middle">1.5</text>
<text transform="translate(498.90,250.70) scale(0.098,0.108)" class="tl" text-anchor="middle">2.0</text>
<text transform="translate(528.37,250.70) scale(0.098,0.108)" class="tl" text-anchor="middle">2.5</text>
<text transform="translate(557.83,250.70) scale(0.098,0.108)" class="tl" text-anchor="middle">3.0</text>
<text transform="translate(587.30,250.70) scale(0.098,0.108)" class="tl" text-anchor="middle">3.5</text>
<text transform="translate(616.77,250.70) scale(0.098,0.108)" class="tl" text-anchor="middle">4.0</text>
<text transform="translate(646.23,250.70) scale(0.098,0.108)" class="tl" text-anchor="middle">4.5</text>
<text transform="translate(675.70,250.70) scale(0.098,0.108)" class="tl" text-anchor="middle">5.0</text>
<text transform="translate(404.40,238.10) scale(0.098,0.108)" class="tl" text-anchor="end">0.0</text>
<text transform="translate(404.40,181.42) scale(0.098,0.108)" class="tl" text-anchor="end">0.2</text>
<text transform="translate(404.40,124.75) scale(0.098,0.108)" class="tl" text-anchor="end">0.4</text>
<text transform="translate(404.40,68.07) scale(0.098,0.108)" class="tl" text-anchor="end">0.6</text>
<text transform="translate(404.40,11.40) scale(0.098,0.108)" class="tl" text-anchor="end">0.8</text>
<circle cx="450.61" cy="15.70" r="3.4" fill="#000"/><ellipse cx="451.61" cy="15.80" rx="0.85" ry="1.75" fill="#fff"/>
<path d="M446.61,33.80L454.61,33.80L450.61,27.00Z" fill="#108d8c"/><path d="M450.31,28.80L450.31,33.15L447.56,33.15Z" fill="#fff"/>
<text transform="translate(464.74,20.30) scale(0.1,0.1)" class="lgb">deformed cut sheet</text>
<text transform="translate(464.74,35.20) scale(0.1,0.1)" class="lgb">straight wire</text>
<rect x="574.07" y="12.60" width="6.2" height="6.2" fill="#00f"/><rect x="575.22" y="13.80" width="1.35" height="3.8" fill="#fff"/>
<text transform="translate(591.60,20.30) scale(0.1,0.1)" class="lgb">ingot mill</text>
<path d="M540.96,29.10L548.96,29.10L544.96,36.40Z" fill="#f00"/><path d="M545.21,30.20L547.36,30.20L545.56,33.60L545.21,33.60Z" fill="#fff"/>
<text transform="translate(558.70,35.20) scale(0.1,0.1)" class="lgb">crimped/indented wire</text>
<text transform="translate(13.1,131.4) rotate(-90) scale(0.1)" class="yt"><tspan font-style="italic">V</tspan><tspan class="sub" dy="46">d</tspan><tspan dy="-46"> /</tspan><tspan font-style="italic">V</tspan><tspan class="sub" dy="46">uc</tspan></text>
<text transform="translate(371.1,131.4) rotate(-90) scale(0.1)" class="yt"><tspan font-style="italic">V</tspan><tspan class="sub" dy="46">d</tspan><tspan dy="-46"> /</tspan><tspan font-style="italic">V</tspan><tspan class="sub" dy="46">uc</tspan></text>
<path d="M176.9,264.7C177.3,263.2 179.7,262.6 180.1,265.3L180.8,271.2C181.1,273.9 182.4,274.8 183.4,272.6" fill="none" stroke="#000" stroke-width="1.1"/>
<path d="M179.9,267.4L174.1,274.7" fill="none" stroke="#000" stroke-width="1.5" stroke-linecap="round"/>
<text transform="translate(180.00,293.30) scale(0.1,0.1)" class="cap" text-anchor="middle">(a)</text>
<ellipse cx="521.1" cy="271" rx="3.6" ry="4.0" transform="rotate(25 521.1 271)" fill="none" stroke="#000" stroke-width="1.15"/>
<path d="M517.8,270.3L514.6,278.3" fill="none" stroke="#000" stroke-width="1.35" stroke-linecap="round"/>
<text transform="translate(528.60,274.90) scale(0.1,0.1)" class="xt2">(%)</text>
<text transform="translate(536.40,295.30) scale(0.1,0.1)" class="cap" text-anchor="middle">(b)</text>
</svg>
</body></html>
